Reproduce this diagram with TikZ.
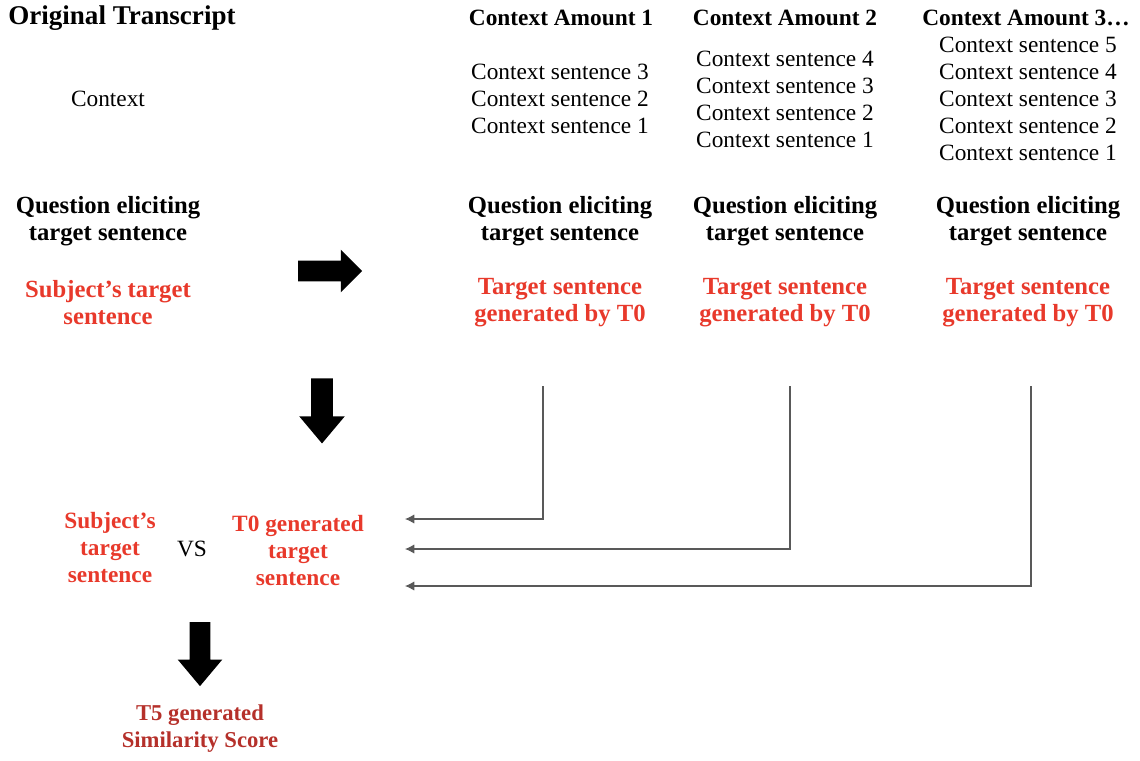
\documentclass[tikz,border=0pt]{standalone}
\usepackage{fontspec}
\setmainfont{Liberation Serif}
\usepackage{tikz}
\usetikzlibrary{arrows.meta,positioning,calc,shapes.arrows}
\definecolor{tred}{HTML}{E8392B}
\definecolor{sred}{HTML}{B5302A}

\begin{document}
\begin{tikzpicture}[x=0.75pt,y=-0.75pt,>={Latex[length=7pt,width=7pt]},
  txt/.style={align=center,inner sep=0pt,font=\fontsize{17.5}{20.25}\selectfont},
  hd/.style={txt,font=\fontsize{18.5}{20.25}\selectfont\bfseries},
  rd/.style={hd,text=tred},
  blk/.style={single arrow,fill=black,inner xsep=0pt,inner ysep=7.5pt,single arrow head extend=8.25pt},
  feed/.style={->,draw=black!65,line width=.8pt}]
\useasboundingbox (0,0) rectangle (1140,761);
% left column: the original transcript
\node[hd,anchor=west,font=\fontsize{20.3}{22}\selectfont\bfseries] (orig) at (8,18) {Original Transcript};
\node[txt] (ctx) at (108,99) {Context};
\node[hd] (q0) at (108,221.5) {Question eliciting\\target sentence};
\node[rd] (subj) at (108,302.5) {Subject's target\\sentence};
\node[blk,minimum height=48pt] (rarr) at (325,271) {};
% context amounts
\node[hd,font=\fontsize{17.5}{20.25}\selectfont\bfseries] (amt1) at (561,18) {Context Amount 1};
\node[hd,font=\fontsize{17.5}{20.25}\selectfont\bfseries] (amt2) at (785,18) {Context Amount 2};
\node[hd,font=\fontsize{17.5}{20.25}\selectfont\bfseries] (amt3) at (1026,18) {Context Amount 3\ldots};
\node[txt] (cs1) at (560,99) {Context sentence 3\\Context sentence 2\\Context sentence 1};
\node[txt] (cs2) at (785,99.5) {Context sentence 4\\Context sentence 3\\Context sentence 2\\Context sentence 1};
\node[txt] (cs3) at (1028,99) {Context sentence 5\\Context sentence 4\\Context sentence 3\\Context sentence 2\\Context sentence 1};
\foreach \i/\x in {1/560,2/785,3/1028}{
  \node[hd] (q\i) at (\x,221.5) {Question eliciting\\target sentence};
  \node[rd] (t\i) at (\x,302.5) {Target sentence\\generated by T0};
}
% comparison
\node[blk,minimum height=48.75pt,inner ysep=7.9pt,single arrow head extend=9pt,rotate=-90,single arrow tip angle=80] (darr1) at (322,404.5) {};
\node[rd,font=\fontsize{17.5}{20.6}\selectfont\bfseries] (subj2) at (110,547.5) {Subject's\\target\\sentence};
\node[txt] (vs) at (192,549) {VS};
\node[rd,font=\fontsize{17.5}{20.6}\selectfont\bfseries] (t0gen) at (298,550.5) {T0 generated\\target\\sentence};
\node[blk,minimum height=48pt,single arrow head extend=9pt,rotate=-90,single arrow tip angle=80] (darr2) at (200,648) {};
\node[hd,text=sred,font=\fontsize{17}{20.25}\selectfont\bfseries] (score) at (200,728.5) {T5 generated\\Similarity Score};
% feedback lines
\coordinate (a1) at (543,386);
\coordinate (a2) at (790,386);
\coordinate (a3) at (1031,386);
\coordinate (e1) at (405,519);
\coordinate (e2) at (405,549);
\coordinate (e3) at (405,586);
\foreach \i in {1,2,3}
  \draw[feed] (a\i) |- (e\i);
\end{tikzpicture}
\end{document}
